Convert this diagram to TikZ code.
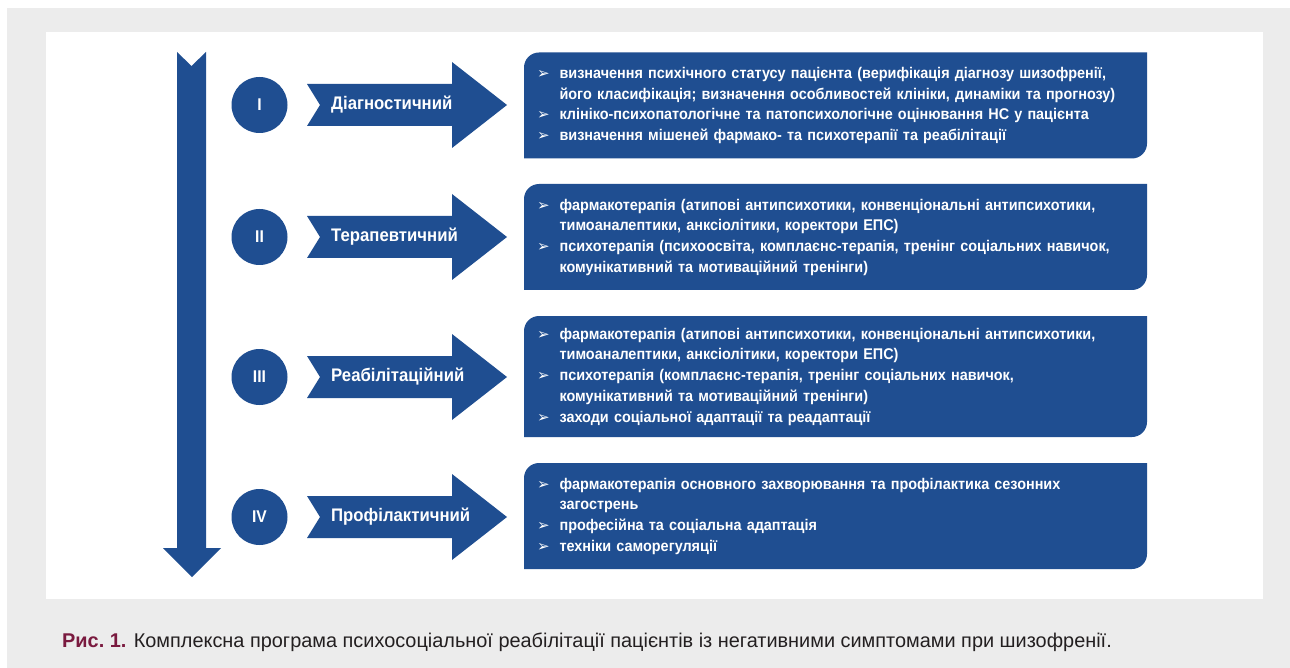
\documentclass[tikz,border=0pt]{standalone}
\usepackage{fontspec}
\setmainfont{Liberation Sans}
\newfontfamily\boxfont{Liberation Sans}[FakeStretch=0.93]
\newfontfamily\labelfont{Liberation Sans}[FakeStretch=0.92]
\newfontfamily\bulletfont{DejaVu Sans}
\usetikzlibrary{positioning}

\definecolor{stageblue}{RGB}{31,78,145}
\definecolor{panelgrey}{RGB}{236,236,236}
\definecolor{capred}{RGB}{122,26,63}
\definecolor{captext}{RGB}{35,31,32}

\newcommand{\bul}{{\bulletfont\fontsize{15}{15}\selectfont ➢}}

\tikzset{
  stagecircle/.style={circle, fill=stageblue, minimum size=56pt, inner sep=0pt,
    text=white, font=\labelfont\bfseries\fontsize{17}{17}\selectfont},
  stagelabel/.style={anchor=west, inner sep=0pt, text=white,
    font=\labelfont\bfseries\fontsize{18.2}{18.2}\selectfont},
  stagebox/.style={minimum width=623pt, inner xsep=13pt, inner ysep=0pt,
    text width=597pt, text=white, font=\boxfont\bfseries\fontsize{15.5}{20.7}\selectfont,
    path picture={\fill[stageblue] (path picture bounding box.south west)
      [rounded corners=15pt] -- (path picture bounding box.north west)
      [sharp corners] -- (path picture bounding box.north east)
      [rounded corners=15pt] -- (path picture bounding box.south east)
      [sharp corners] -- cycle;}},
}

\begin{document}
\begin{tikzpicture}[x=1pt, y=-1pt]
  \useasboundingbox (0,0) rectangle (1290,668);
  \fill[panelgrey] (7,8) rectangle (1290,668);
  \fill[white] (46,32) rectangle (1263,599);

  % time axis
  \fill[stageblue] (177,52) -- (191.5,66) -- (206,52) -- (206,548) -- (221,548)
    -- (192,577) -- (163,548) -- (177,548) -- cycle;

  % stages
  \foreach \num/\name/\yc [count=\i] in {I/Діагностичний/105, II/Терапевтичний/237,
      III/Реабілітаційний/377, IV/Профілактичний/517} {
    \node[stagecircle] (c\i) at (259.5,\yc) {\num};
    \fill[stageblue] (307,\yc-21) -- (452,\yc-21) -- (452,\yc-43) -- (507,\yc)
      -- (452,\yc+43) -- (452,\yc+21) -- (307,\yc+21) -- (320,\yc) -- cycle;
    \node[stagelabel] (l\i) at (331,\yc) {\name};
  }

  \node[stagebox, minimum height=106pt] (b1) at (835.5,105.5) {\noindent
    \begin{tabular}{@{}l@{\hspace{10pt}}l@{}}
      \bul & визначення психічного статусу пацієнта (верифікація діагнозу шизофренії,\\
           & його класифікація; визначення особливостей клініки, динаміки та прогнозу)\\
      \bul & клініко-психопатологічне та патопсихологічне оцінювання НС у пацієнта\\
      \bul & визначення мішеней фармако- та психотерапії та реабілітації
    \end{tabular}};
  \node[stagebox, minimum height=106pt] (b2) at (835.5,237) {\noindent
    \begin{tabular}{@{}l@{\hspace{10pt}}l@{}}
      \bul & фармакотерапія (атипові антипсихотики, конвенціональні антипсихотики,\\
           & тимоаналептики, анксіолітики, коректори ЕПС)\\
      \bul & психотерапія (психоосвіта, комплаєнс-терапія, тренінг соціальних навичок,\\
           & комунікативний та мотиваційний тренінги)
    \end{tabular}};
  \node[stagebox, minimum height=121pt] (b3) at (835.5,376.5) {\noindent
    \begin{tabular}{@{}l@{\hspace{10pt}}l@{}}
      \bul & фармакотерапія (атипові антипсихотики, конвенціональні антипсихотики,\\
           & тимоаналептики, анксіолітики, коректори ЕПС)\\
      \bul & психотерапія (комплаєнс-терапія, тренінг соціальних навичок,\\
           & комунікативний та мотиваційний тренінги)\\
      \bul & заходи соціальної адаптації та реадаптації
    \end{tabular}};
  \node[stagebox, minimum height=106pt] (b4) at (835.5,516) {\noindent
    \begin{tabular}{@{}l@{\hspace{10pt}}l@{}}
      \bul & фармакотерапія основного захворювання та профілактика сезонних\\
           & загострень\\
      \bul & професійна та соціальна адаптація\\
      \bul & техніки саморегуляції
    \end{tabular}};

  % caption
  \node[anchor=west, inner sep=0pt, text=captext, font=\fontsize{19.9}{19.9}\selectfont]
    (cap) at (62,642) {\textcolor{capred}{\bfseries Рис.~1.} Комплексна програма
    психосоціальної реабілітації пацієнтів із негативними симптомами при шизофренії.};
\end{tikzpicture}
\end{document}
